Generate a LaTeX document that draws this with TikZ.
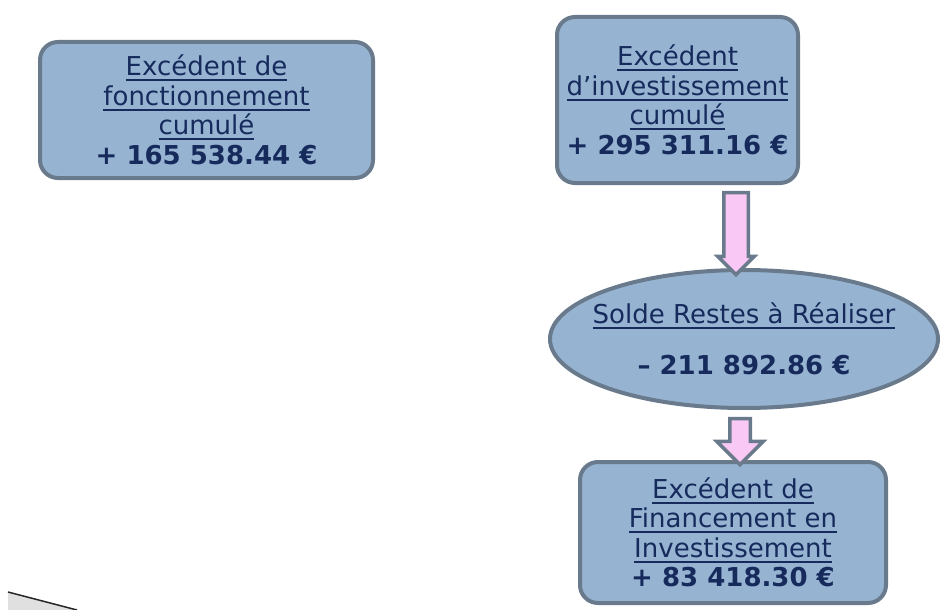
\documentclass[tikz,border=0pt]{standalone}
\usepackage{fontspec}
\setmainfont{DejaVu Sans}
\usetikzlibrary{positioning,shapes.geometric,shapes.arrows}
\definecolor{boxfill}{RGB}{150,180,210}
\definecolor{boxline}{RGB}{105,122,140}
\definecolor{txtblue}{RGB}{22,42,92}
\definecolor{arrpink}{RGB}{250,200,245}
\newcommand\trait[1]{\setbox0=\hbox{#1}\leavevmode\rlap{\vrule width\wd0 height -3.5pt depth 5.5pt}\box0}
\begin{document}
\begin{tikzpicture}[
  x=1pt, y=1pt,
  every node/.style={font=\fontsize{26}{29.5}\selectfont, text=txtblue},
  bloc/.style={draw=boxline, fill=boxfill, line width=4pt, rounded corners=18pt,
               align=center, inner sep=0pt},
  ovale/.style={ellipse, draw=boxline, fill=boxfill, line width=4pt, align=center,
                inner xsep=-18pt, inner ysep=0pt},
  fleche/.style={single arrow, draw=boxline, fill=arrpink, line width=3.5pt,
                 shape border rotate=270},
]
  \useasboundingbox (0,0) rectangle (943,-610);
  % page curl, bottom left
  \fill[black!12] (8,-592) -- (77,-610) -- (8,-610) -- cycle;
  \draw[black!85, line width=1.5pt] (8,-592) -- (77,-610);

  \node[bloc, minimum width=333pt, minimum height=136pt] (b1) at (206.5,-110)
    {\trait{Excédent de}\\\trait{fonctionnement}\\\trait{cumulé}\\\textbf{+ 165 538.44 €}};
  \node[bloc, minimum width=241pt, minimum height=166pt] (b2) at (677.5,-100)
    {\trait{Excédent}\\\trait{d’investissement}\\\trait{cumulé}\\\textbf{+ 295 311.16 €}};
  \node[ovale, minimum width=388pt, minimum height=138pt, below=83pt of b2, xshift=66.5pt] (sr)
    {\trait{Solde Restes à Réaliser}\\[22pt]\textbf{– 211 892.86 €}};
  \node[bloc, minimum width=306pt, minimum height=141pt, below=50pt of sr, xshift=-11pt] (b3)
    {\trait{Excédent de}\\\trait{Financement en}\\\trait{Investissement}\\\textbf{+ 83 418.30 €}};

  \path (b2.south) ++(58.5,-2) coordinate (f1a);
  \path (f1a) -- (f1a |- sr.north) node[midway, fleche, inner sep=10.5pt,
        single arrow head extend=6pt, minimum height=82pt] (f1) {};
  \path (sr.south) ++(-4,-3) coordinate (f2a);
  \path (f2a) -- (f2a |- b3.north) node[midway, fleche, inner sep=8.5pt,
        single arrow head extend=13pt, minimum height=46pt] (f2) {};
\end{tikzpicture}
\end{document}
